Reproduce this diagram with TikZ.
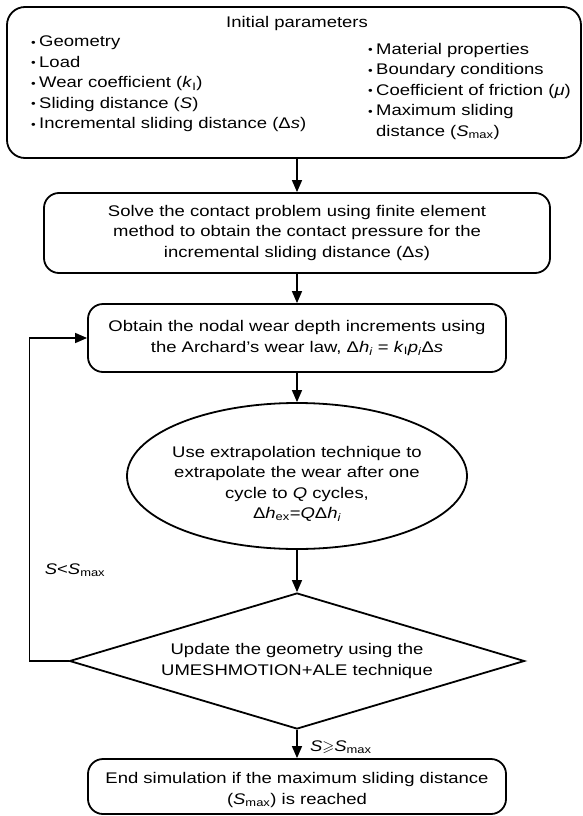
\documentclass[tikz,border=0pt]{standalone}
\usepackage{fontspec}
\setmainfont{Liberation Sans}[FakeStretch=1.2]
\usepackage{amssymb}
\usetikzlibrary{arrows.meta,shapes.geometric,positioning}
\newcommand{\Smax}{\textit{S}\textsubscript{max}}
\newcommand{\bul}{\makebox[8pt][l]{\raisebox{0.5pt}{\fontsize{11}{11}\selectfont•}}}

\begin{document}
\begin{tikzpicture}[x=1pt,y=-1pt,
  every node/.style={font=\fontsize{15.4}{20.5}\selectfont},
  stepbox/.style={draw,line width=1.8pt,rounded corners=15pt,align=center,inner sep=0pt},
  ovalbox/.style={draw,ellipse,line width=1.8pt,align=center,inner xsep=-8pt,inner ysep=0pt,
    minimum width=340pt,minimum height=146pt},
  decision/.style={draw,diamond,aspect=3.35,line width=1.8pt,align=center,inner sep=0pt,
    minimum width=455pt,minimum height=136pt},
  flow/.style={line width=1.4pt,-{Triangle[length=12pt,width=10pt]}}]
\useasboundingbox (0,0) rectangle (583,816);
% initial parameters
\node[stepbox,rounded corners=18pt,minimum width=574pt,minimum height=151pt] (init) at (294,82.5) {};
\node (title) at (297,24) {Initial parameters};
\node[anchor=north west,align=left,inner sep=0pt] (leftcol) at (31,36) {\bul Geometry\\
  \bul Load\\
  \bul Wear coefficient (\textit{k}\textsubscript{I})\\
  \bul Sliding distance (\textit{S})\\
  \bul Incremental sliding distance (Δ\textit{s})};
\node[anchor=north west,align=left,inner sep=0pt] (rightcol) at (368,43) {\bul Material properties\\
  \bul Boundary conditions\\
  \bul Coefficient of friction (\textit{μ})\\
  \bul Maximum sliding\\
  \hspace*{8pt}distance (\Smax)};
% steps
\node[stepbox,minimum width=506pt,minimum height=80pt] (solve) at (297,233) {Solve the contact problem using finite element\\
  method to obtain the contact pressure for the\\
  incremental sliding distance (Δ\textit{s})};
\node[stepbox,minimum width=418pt,minimum height=68pt] (wear) at (297,338) {Obtain the nodal wear depth increments using\\
  the Archard’s wear law, Δ\textit{h\textsubscript{i}} = \textit{k}\textsubscript{I}\textit{p\textsubscript{i}}Δ\textit{s}};
\node[ovalbox,text height=88pt] (extrap) at (297,476) {Use extrapolation technique to\\
  extrapolate the wear after one\\
  cycle to \textit{Q} cycles,\\
  Δ\textit{h}\textsubscript{ex}=\textit{Q}Δ\textit{h\textsubscript{i}}};
\node[decision] (update) at (297,661) {Update the geometry using the\\
  UMESHMOTION+ALE technique};
\node[stepbox,minimum width=418pt,minimum height=55pt,text height=39pt] (finish) at (297,786.5) {End simulation if the maximum sliding distance\\
  (\Smax) is reached};
% arrows
\draw[flow] (init.south -| solve.north) -- (solve.north);
\draw[flow] (solve) -- (wear);
\draw[flow] (wear) -- (extrap);
\draw[flow] (extrap) -- (update);
\draw[flow] (update) -- node[right,xshift=9pt,yshift=-3pt] (stop) {\textit{S}$\geqslant$\Smax} (finish);
\draw[flow] (update.west) -- ++(-39,0) |- (wear.west);
\node (cont) at (75,570) {\textit{S}<\Smax};
\end{tikzpicture}
\end{document}
